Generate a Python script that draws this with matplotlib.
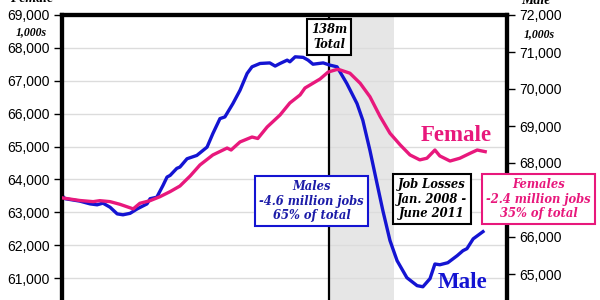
import matplotlib
matplotlib.use('Agg')
import matplotlib.pyplot as plt

# Employment by gender, thousands (monthly readings, decimal years)
female_years = [2002.00, 2002.40, 2002.70, 2002.85, 2003.08, 2003.30, 2003.60, 2003.75,
                2003.98, 2004.20, 2004.43, 2004.65, 2004.88, 2005.10, 2005.39, 2005.71,
                2005.80, 2006.00, 2006.27, 2006.40, 2006.61, 2006.90, 2007.12, 2007.35,
                2007.46, 2007.80, 2007.98, 2008.18, 2008.25, 2008.47, 2008.70, 2008.92,
                2009.15, 2009.37, 2009.60, 2009.82, 2010.04, 2010.20, 2010.38, 2010.49,
                2010.72, 2010.94, 2011.17, 2011.33, 2011.51]
female = [63440, 63360, 63325, 63355, 63325, 63245, 63105, 63275,
          63355, 63475, 63630, 63800, 64105, 64440, 64745, 64955,
          64895, 65140, 65290, 65245, 65595, 65960, 66325, 66570,
          66780, 67055, 67265, 67345, 67330, 67230, 66925, 66515,
          65910, 65405, 65050, 64745, 64595, 64645, 64895, 64715,
          64560, 64645, 64795, 64895, 64845]

male_years = [2002.00, 2002.07, 2002.40, 2002.63, 2002.79, 2002.92, 2003.08, 2003.24,
              2003.37, 2003.53, 2003.69, 2003.91, 2003.98, 2004.13, 2004.27, 2004.36,
              2004.43, 2004.58, 2004.65, 2004.81, 2005.03, 2005.26, 2005.39, 2005.55,
              2005.66, 2005.84, 2006.00, 2006.16, 2006.27, 2006.45, 2006.67, 2006.79,
              2006.90, 2007.06, 2007.12, 2007.24, 2007.42, 2007.53, 2007.64, 2007.87,
              2008.02, 2008.18, 2008.40, 2008.63, 2008.76, 2008.92, 2009.08, 2009.21,
              2009.37, 2009.53, 2009.75, 2009.98, 2010.11, 2010.27, 2010.38, 2010.49,
              2010.67, 2010.88, 2011.01, 2011.10, 2011.24, 2011.46]
male = [67120, 67035, 66970, 66895, 66870, 66915, 66805, 66625,
        66600, 66640, 66760, 66895, 67035, 67075, 67395, 67620,
        67665, 67855, 67890, 68115, 68205, 68430, 68795, 69200,
        69245, 69605, 69965, 70420, 70600, 70690, 70705, 70620,
        70690, 70780, 70735, 70870, 70855, 70780, 70670, 70705,
        70645, 70600, 70150, 69605, 69155, 68340, 67440, 66715,
        65905, 65360, 64900, 64685, 64655, 64875, 65270, 65250,
        65305, 65495, 65630, 65685, 65950, 66145]

female_ticks = list(range(61000, 69001, 1000))
male_ticks = list(range(65000, 72001, 1000))
hidden_male_ticks = [67000]   # sits behind the Females box in the original
year_ticks = list(range(2002, 2013))

recession = (2008.0, 2009.45)
peak_year = 2008.0

pink = '#e8187c'
blue = '#1414d2'
serif = 'Liberation Serif'
box_font = 'DejaVu Serif'

fig = plt.figure(figsize=(6, 3), dpi=100)
ax = fig.add_axes([62 / 600, -11 / 300, 445 / 600, 296 / 300])
ax2 = ax.twinx()
ax.set_zorder(ax2.get_zorder() + 1)
ax.patch.set_visible(False)

ax.set_xlim(2002, 2012)
ax.set_ylim(60000, 69000)
ax2.set_ylim(64000, 72000)

# background pieces live on the lower axis
ax2.axvspan(recession[0], recession[1], color='#e6e6e6', lw=0, zorder=0)
ax2.set_xticks(year_ticks)
ax2.grid(axis='x', color='#dcdcdc', lw=1, zorder=0.5)
for f in female_ticks:
    frac = (f - 60000) / 9000
    ax2.plot([0, 1], [frac, frac], transform=ax2.transAxes, color='#dcdcdc', lw=1, zorder=0.5)
ax2.axvline(peak_year, color='black', lw=1.6, zorder=1)

ax2.plot(male_years, male, color=blue, lw=2.4, zorder=3)
ax.plot(female_years, female, color=pink, lw=2.4, zorder=3)

ax.set_xticks(year_ticks)
ax.tick_params(axis='x', bottom=False, labelbottom=False)
ax2.tick_params(axis='x', bottom=False, labelbottom=False)

ax.set_yticks(female_ticks)
ax.set_yticklabels(['{:,}'.format(v) for v in female_ticks])
ax2.set_yticks(male_ticks)
ax2.set_yticklabels(['' if v in hidden_male_ticks else '{:,}'.format(v) for v in male_ticks])
for a in (ax, ax2):
    a.tick_params(axis='y', length=6, width=1, pad=3, labelsize=10)
    for lab in a.get_yticklabels():
        lab.set_fontfamily('Liberation Sans')
    for s in a.spines.values():
        s.set_linewidth(3)
        s.set_color('black')


def px(x, y):
    return x / 600, 1 - y / 300


def box(x, y, text, color, edge):
    fig.text(*px(x, y), text, ha='center', va='center', color=color,
             family=box_font, weight='bold', style='italic', fontsize=8.3, linespacing=1.15,
             bbox=dict(boxstyle='square,pad=0.35', fc='white', ec=edge, lw=1.5), zorder=10)


box(329, 37, '138m\nTotal', 'black', 'black')
box(311.5, 201, 'Males\n-4.6 million jobs\n65% of total', '#1c1ca8', blue)
box(432, 199, 'Job Losses\nJan. 2008 -\nJune 2011', 'black', 'black')
box(538.5, 199, 'Females\n-2.4 million jobs\n35% of total', pink, pink)

fig.text(*px(456, 135.5), 'Female', ha='center', va='center', color=pink,
         family=serif, weight='bold', fontsize=16.5)
fig.text(*px(463, 283), 'Male', ha='center', va='center', color=blue,
         family=serif, weight='bold', fontsize=16.5)

# axis unit labels (top of the picture is cropped)
fig.text(*px(32, -2), 'Female', ha='center', va='center', family=serif,
         weight='bold', style='italic', fontsize=10)
fig.text(*px(31, 32), '1,000s', ha='center', va='center', family=serif,
         weight='bold', style='italic', fontsize=8.5)
fig.text(*px(536, 0), 'Male', ha='center', va='center', family=serif,
         weight='bold', style='italic', fontsize=10)
fig.text(*px(539, 34), '1,000s', ha='center', va='center', family=serif,
         weight='bold', style='italic', fontsize=8.5)

fig.savefig('out.png', dpi=100)
